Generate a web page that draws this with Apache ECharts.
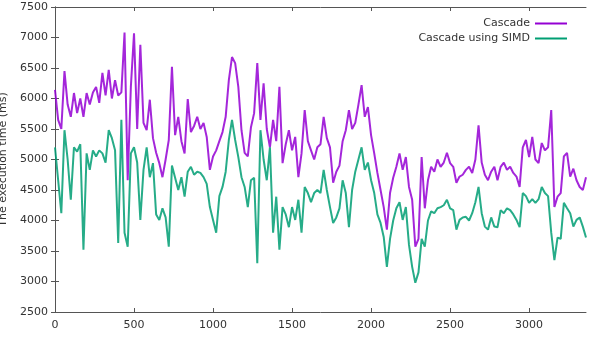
<!DOCTYPE html>
<html>
<head>
<meta charset="utf-8">
<script src="https://cdn.jsdelivr.net/npm/echarts@6/dist/echarts.min.js"></script>
<style>
  html, body { margin: 0; padding: 0; background: #fff; }
  #chart { width: 596px; height: 342px; }
</style>
</head>
<body>
<div id="chart"></div>
<script>
// sample spacing along x (one reading every 20 units)
const STEP = 20
const xTicks = [0, 500, 1000, 1500, 2000, 2500, 3000]
const yTicks = [2500, 3000, 3500, 4000, 4500, 5000, 5500, 6000, 6500, 7000, 7500]
const seriesNames = ['Cascade', 'Cascade using SIMD']

// Cascade, x = 0, 20, 40 ... 3360
const cascade = [
  6140, 5650, 5500, 6450, 5900, 5700, 6090, 5760, 6000, 5700,
  6090, 5900, 6100, 6190, 5930, 6420, 6050, 6470, 6000, 6300,
  6050, 6100, 7080, 4660, 6190, 7070, 5500, 6880, 5600, 5480,
  5980, 5350, 5110, 4940, 4710, 5000, 5320, 6520, 5400, 5700,
  5300, 5100, 5990, 5450, 5550, 5700, 5500, 5600, 5370, 4830,
  5050, 5150, 5300, 5450, 5700, 6300, 6680, 6580, 6190, 5480,
  5110, 5050, 5530, 5760, 6580, 5650, 6250, 5500, 5200, 5650,
  5300, 6190, 4940, 5250, 5480, 5150, 5370, 4710, 5100, 5810,
  5300, 5150, 5000, 5200, 5250, 5700, 5350, 5200, 4620, 4800,
  4900, 5300, 5480, 5810, 5500, 5600, 5900, 6220, 5700, 5860,
  5400, 5100, 4780, 4500, 4220, 3850, 4450, 4700, 4880, 5100,
  4830, 5040, 4550, 4340, 3570, 3700, 5040, 4200, 4660, 4880,
  4800, 5000, 4880, 4950, 5110, 4940, 4880, 4620, 4720, 4750,
  4830, 4880, 4780, 5000, 5560, 4950, 4750, 4660, 4800, 4880,
  4660, 4880, 4950, 4830, 4880, 4780, 4720, 4550, 5200, 5320,
  5040, 5370, 5000, 4940, 5270, 5150, 5200, 5810, 4220, 4390,
  4450, 5050, 5110, 4720, 4850, 4660, 4550, 4500, 4710
]

// Cascade using SIMD, same x positions
const cascadeSimd = [
  5200, 4660, 4120, 5480, 5000, 4340, 5200, 5130, 5250, 3520,
  5100, 4830, 5150, 5050, 5150, 5100, 4950, 5480, 5350, 5150,
  3630, 5650, 3800, 3570, 5100, 5200, 4950, 4010, 4830, 5200,
  4710, 4940, 4100, 4010, 4200, 4050, 3570, 4900, 4700, 4500,
  4710, 4390, 4800, 4880, 4750, 4800, 4780, 4710, 4600, 4220,
  4010, 3800, 4400, 4550, 4800, 5320, 5650, 5320, 5040, 4710,
  4550, 4220, 4660, 4700, 3300, 5480, 5000, 4660, 5200, 3800,
  4390, 3520, 4220, 4100, 3890, 4220, 4010, 4340, 3800, 4550,
  4450, 4300, 4450, 4500, 4450, 4830, 4500, 4220, 3960, 4050,
  4200, 4660, 4450, 3890, 4500, 4800, 5000, 5200, 4830, 4950,
  4660, 4450, 4100, 3960, 3730, 3240, 3700, 4000, 4200, 4300,
  4010, 4220, 3600, 3240, 2980, 3150, 3700, 3570, 4000, 4150,
  4120, 4200, 4220, 4250, 4340, 4200, 4170, 3850, 4010, 4050,
  4060, 4000, 4120, 4300, 4550, 4120, 3900, 3850, 4050, 3900,
  3890, 4170, 4120, 4200, 4170, 4100, 4010, 3890, 4450, 4400,
  4290, 4350, 4290, 4350, 4550, 4450, 4400, 3800, 3350, 3720,
  3700, 4290, 4200, 4120, 3900, 4010, 4050, 3900, 3720
]

const toPairs = (vals) => vals.map((v, i) => [i * STEP, v])

const chart = echarts.init(document.getElementById('chart'))

const axisGray = '#555'
const fontFamily = 'DejaVu Sans'
const labelStyle = { color: '#333', fontSize: 11, fontFamily: fontFamily, formatter: (v) => String(v) }

const option = {
  animation: false,
  backgroundColor: '#fff',
  grid: { left: 55, right: 10, top: 7, bottom: 30, containLabel: false, outerBoundsMode: 'none' },
  legend: {
    orient: 'vertical',
    right: 24,
    top: 12,
    align: 'right',
    itemWidth: 32,
    itemHeight: 2,
    itemGap: 2,
    icon: 'rect',
    textStyle: { color: '#333', fontSize: 11, fontFamily: fontFamily, lineHeight: 13 },
    data: seriesNames
  },
  xAxis: [
    {
      type: 'value',
      min: 0,
      max: 3360,
      interval: 500,
      axisLine: { lineStyle: { color: axisGray, width: 1 } },
      axisTick: { inside: true, length: 4, customValues: xTicks, lineStyle: { color: axisGray } },
      axisLabel: { customValues: xTicks, margin: 8, ...labelStyle },
      splitLine: { show: false }
    },
    {
      type: 'value',
      position: 'top',
      min: 0,
      max: 3360,
      interval: 500,
      axisLine: { show: true, lineStyle: { color: axisGray, width: 1 } },
      axisTick: { show: true, inside: true, length: 4, customValues: xTicks, lineStyle: { color: axisGray } },
      axisLabel: { show: false },
      splitLine: { show: false }
    }
  ],
  yAxis: [
    {
      type: 'value',
      min: 2500,
      max: 7500,
      interval: 500,
      name: 'The execution time (ms)',
      nameLocation: 'middle',
      nameGap: 46,
      nameTextStyle: { color: '#333', fontSize: 11, fontFamily: fontFamily },
      axisLine: { show: true, lineStyle: { color: axisGray, width: 1 } },
      axisTick: { show: true, inside: true, length: 4, customValues: yTicks, lineStyle: { color: axisGray } },
      axisLabel: { customValues: yTicks, margin: 7, ...labelStyle },
      splitLine: { show: false }
    },
    {
      type: 'value',
      position: 'right',
      min: 2500,
      max: 7500,
      interval: 500,
      axisLine: { show: true, lineStyle: { color: axisGray, width: 1 } },
      axisTick: { show: true, inside: true, length: 4, customValues: yTicks, lineStyle: { color: axisGray } },
      axisLabel: { show: false },
      splitLine: { show: false }
    }
  ],
  series: [
    {
      name: seriesNames[0],
      type: 'line',
      data: toPairs(cascade),
      showSymbol: false,
      color: '#9400d3',
      lineStyle: { width: 2, color: '#9400d3', opacity: 0.85 },
      z: 2
    },
    {
      name: seriesNames[1],
      type: 'line',
      data: toPairs(cascadeSimd),
      showSymbol: false,
      color: '#009e73',
      lineStyle: { width: 2, color: '#009e73', opacity: 0.85 },
      z: 3
    }
  ]
}

chart.setOption(option)
</script>
</body>
</html>
